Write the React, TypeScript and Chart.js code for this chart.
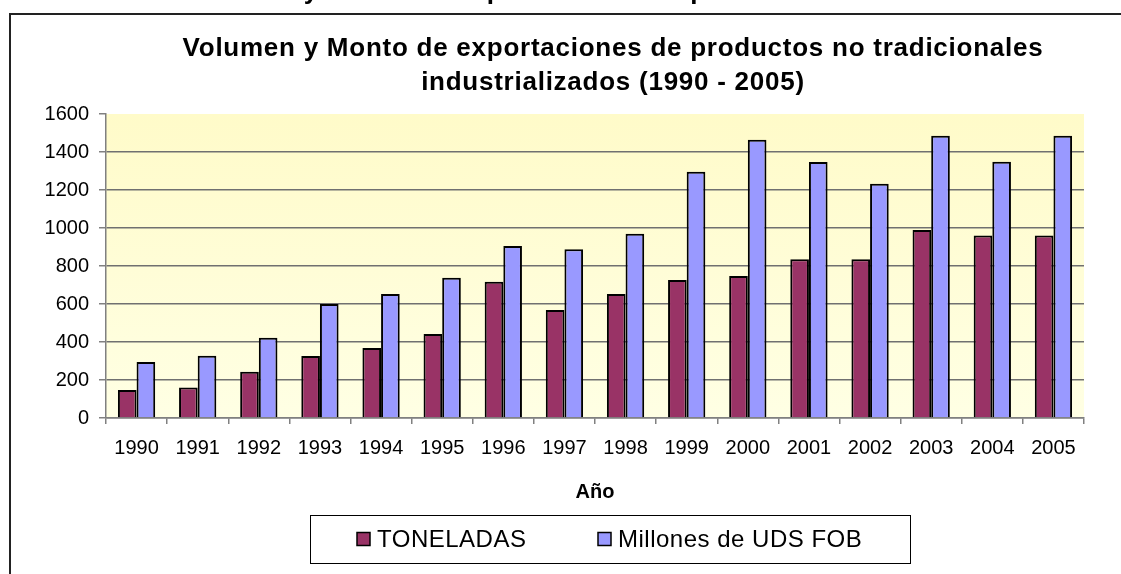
import React, { useEffect, useRef } from "react";
import { Chart, registerables } from "chart.js";

Chart.register(...registerables);

const years = ["1990", "1991", "1992", "1993", "1994", "1995", "1996", "1997", "1998", "1999", "2000", "2001", "2002", "2003", "2004", "2005"];
const toneladas = [147, 161, 244, 326, 368, 442, 717, 568, 653, 726, 747, 835, 835, 989, 960, 960];
const millones = [295, 328, 423, 600, 653, 738, 905, 888, 970, 1296, 1465, 1347, 1233, 1486, 1349, 1486];
const seriesNames = ["TONELADAS", "Millones de UDS FOB"];
const seriesColors = ["#993366", "#9999FF"];
const titleLines = ["Volumen y Monto de exportaciones de productos no tradicionales", "industrializados (1990 - 2005)"];
const xAxisTitle = "Año";
const yMax = 1600;
const yStep = 200;

const FONT = "'Liberation Sans', Arial, sans-serif";

const decorPlugin = {
  id: "decor",
  beforeDraw(chart: any) {
    const { ctx, chartArea: a } = chart;
    ctx.save();
    ctx.fillStyle = "#ffffff";
    ctx.fillRect(0, 0, chart.width, chart.height);
    const g = ctx.createLinearGradient(0, a.top, 0, a.bottom);
    g.addColorStop(0, "#FFFBC9");
    g.addColorStop(1, "#FFFFE4");
    ctx.fillStyle = g;
    ctx.fillRect(a.left, a.top, a.right - a.left, a.bottom - a.top);
    // outer frame
    ctx.strokeStyle = "#222222";
    ctx.lineWidth = 2;
    ctx.beginPath();
    ctx.moveTo(10, chart.height);
    ctx.lineTo(10, 14);
    ctx.lineTo(chart.width, 14);
    ctx.stroke();
    // titles
    ctx.font = `bold 26px ${FONT}`;
    ctx.fillStyle = "#000000";
    ctx.textAlign = "center";
    ctx.textBaseline = "alphabetic";
    (ctx as any).letterSpacing = "0.75px";
    const cx = 613;
    ctx.fillText(titleLines[0], cx, -1);
    ctx.fillText(titleLines[0], cx, 56);
    ctx.fillText(titleLines[1], cx, 90);
    ctx.restore();
  },
  afterDraw(chart: any) {
    const { ctx } = chart;
    ctx.save();
    // legend frame
    ctx.strokeStyle = "#000000";
    ctx.lineWidth = 1;
    ctx.strokeRect(310.5, 515.5, 600, 48);
    ctx.font = `24px ${FONT}`;
    (ctx as any).letterSpacing = "0.5px";
    ctx.textBaseline = "middle";
    ctx.textAlign = "left";
    const box = 13;
    const gap = 7;
    const starts = [357, 598];
    const cy = 539;
    chart.data.datasets.forEach((d: any, i: number) => {
      const x = starts[i];
      ctx.fillStyle = d.backgroundColor;
      ctx.fillRect(x, cy - box / 2, box, box);
      ctx.strokeStyle = "#000000";
      ctx.lineWidth = 1.5;
      ctx.strokeRect(x, cy - box / 2, box, box);
      ctx.fillStyle = "#000000";
      ctx.fillText(d.label, x + box + gap, cy + 1);
    });
    ctx.restore();
  },
};

export default function App() {
  const ref = useRef<HTMLCanvasElement>(null);
  useEffect(() => {
    document.body.style.margin = "0";
    const canvas = ref.current!;
    const chart = new Chart(canvas, {
      type: "bar",
      data: {
        labels: years,
        datasets: [
          {
            label: seriesNames[0],
            data: toneladas,
            backgroundColor: seriesColors[0],
            borderColor: "#000000",
            borderWidth: 2,
            categoryPercentage: 0.61,
            barPercentage: 1.0,
          },
          {
            label: seriesNames[1],
            data: millones,
            backgroundColor: seriesColors[1],
            borderColor: "#000000",
            borderWidth: 2,
            categoryPercentage: 0.61,
            barPercentage: 1.0,
          },
        ],
      },
      options: {
        animation: false,
        responsive: false,
        maintainAspectRatio: false,
        devicePixelRatio: 1,
        layout: { padding: { top: 114, left: 10, right: 37, bottom: 0 } },
        plugins: {
          legend: { display: false },
          title: { display: false },
          tooltip: { enabled: false },
        },
        scales: {
          x: {
            grid: {
              display: true,
              drawOnChartArea: false,
              drawTicks: true,
              tickLength: 6,
              color: "#808080",
              lineWidth: 1.5,
              offset: true,
            },
            border: { color: "#808080", width: 1.5 },
            ticks: {
              font: { family: FONT, size: 20 },
              color: "#000000",
              padding: 12,
              maxRotation: 0,
              autoSkip: false,
            },
            title: {
              display: true,
              text: xAxisTitle,
              font: { family: FONT, size: 20, weight: "bold" },
              color: "#000000",
              padding: { top: 0, bottom: 70 },
            },
            afterFit: (s: any) => {
              s.height = 156;
            },
          },
          y: {
            min: 0,
            max: yMax,
            ticks: {
              stepSize: yStep,
              font: { family: FONT, size: 20 },
              color: "#000000",
              padding: 10,
              callback: (v: any) => String(v),
            },
            grid: {
              color: (c: any) => (c.tick && c.tick.value === yMax ? "rgba(0,0,0,0)" : "#707070"),
              tickColor: "#808080",
              tickLength: 7,
              lineWidth: 1.5,
            },
            border: { color: "#808080", width: 1.5 },
            afterFit: (s: any) => {
              s.width = 96;
            },
          },
        },
      },
      plugins: [decorPlugin],
    } as any);
    return () => chart.destroy();
  }, []);
  return <canvas ref={ref} width={1121} height={574} style={{ display: "block", width: 1121, height: 574 }} />;
}
